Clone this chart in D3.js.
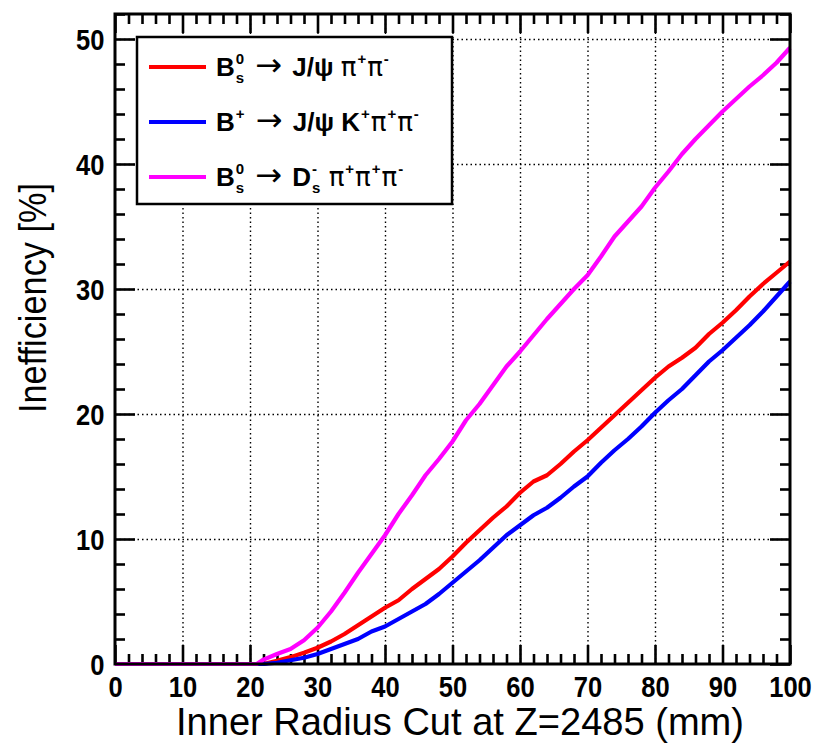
<!DOCTYPE html>
<html>
<head>
<meta charset="utf-8">
<script src="https://cdn.jsdelivr.net/npm/d3@7"></script>
<style>
  html, body { margin: 0; padding: 0; background: #fff; }
  svg { display: block; }
</style>
</head>
<body>
<svg id="chart" width="817" height="744"></svg>
<script>
// ---------------- DATA ----------------
const radius = [0, 2, 4, 6, 8, 10, 12, 14, 16, 18, 20, 21, 22, 24, 26, 28, 30, 32, 34, 36, 38, 40,
  42, 44, 46, 48, 50, 52, 54, 56, 58, 60, 62, 64, 66, 68, 70, 72, 74, 76, 78, 80,
  82, 84, 86, 88, 90, 92, 94, 96, 98, 100];

const bsJpsiPiPi = [0, 0, 0, 0, 0, 0, 0, 0, 0, 0, 0, 0, 0, 0.25, 0.55, 0.9, 1.3, 1.8, 2.4, 3.1, 3.8, 4.5,
  5.1, 6.0, 6.8, 7.6, 8.6, 9.7, 10.7, 11.7, 12.6, 13.7, 14.6, 15.1, 16.0, 17.0, 17.9, 18.9, 19.9, 20.9, 21.9, 22.9,
  23.8, 24.5, 25.3, 26.4, 27.3, 28.3, 29.4, 30.4, 31.3, 32.2];

const bpJpsiKPiPi = [0, 0, 0, 0, 0, 0, 0, 0, 0, 0, 0, 0, 0, 0.1, 0.3, 0.5, 0.8, 1.2, 1.6, 2.0, 2.6, 3.0,
  3.6, 4.2, 4.8, 5.6, 6.5, 7.4, 8.3, 9.3, 10.3, 11.1, 11.9, 12.5, 13.3, 14.2, 15.0, 16.1, 17.1, 18.0, 19.0, 20.1,
  21.1, 22.0, 23.1, 24.2, 25.1, 26.1, 27.1, 28.2, 29.4, 30.6];

const bsDsPiPiPi = [0, 0, 0, 0, 0, 0, 0, 0, 0, 0, 0, 0, 0.35, 0.8, 1.2, 1.9, 2.9, 4.2, 5.7, 7.3, 8.8, 10.3,
  12.0, 13.5, 15.1, 16.4, 17.8, 19.5, 20.8, 22.3, 23.8, 25.0, 26.3, 27.6, 28.8, 30.0, 31.1, 32.6, 34.2, 35.4, 36.6, 38.1,
  39.4, 40.8, 42.0, 43.1, 44.2, 45.2, 46.2, 47.1, 48.1, 49.3];

const xTickValues = [0, 10, 20, 30, 40, 50, 60, 70, 80, 90, 100];
const yTickValues = [0, 10, 20, 30, 40, 50];
const xTitle = "Inner Radius Cut at Z=2485 (mm)";
const yTitle = "Inefficiency [%]";

const seriesNames = ["bs_jpsipipi", "bp_jpsikpipi", "bs_dspipipi"];
const seriesColors = ["#ff0000", "#0000ff", "#ff00ff"];
const seriesValues = [bsJpsiPiPi, bpJpsiKPiPi, bsDsPiPiPi];

// legend rich-text parts: {t} normal text, {sub, sup} stacked indices
const legendParts = [
  [{t: "B"}, {sub: "s", sup: "0"}, {t: " \u2192 ", arrow: true}, {t: "J/\u03C8 "}, {t: "\u03C0", greek: true}, {sup: "+"}, {t: "\u03C0", greek: true}, {sup: "-"}],
  [{t: "B"}, {sup: "+"}, {t: " \u2192 ", arrow: true}, {t: "J/\u03C8 K"}, {sup: "+"}, {t: "\u03C0", greek: true}, {sup: "+"}, {t: "\u03C0", greek: true}, {sup: "-"}],
  [{t: "B"}, {sub: "s", sup: "0"}, {t: " \u2192 ", arrow: true}, {t: "D"}, {sub: "s", sup: "-"}, {t: " "}, {t: "\u03C0", greek: true}, {sup: "+"}, {t: "\u03C0", greek: true}, {sup: "+"}, {t: "\u03C0", greek: true}, {sup: "-"}]
];

// ---------------- LAYOUT ----------------
const svg = d3.select("#chart");
const L = 115, R = 790, T = 14, B = 664;
const x = d3.scaleLinear().domain([0, 100]).range([L, R]);
const y = d3.scaleLinear().domain([0, 52]).range([B, T]);
const FONT = "'Liberation Sans', Arial, Helvetica, sans-serif";

// grid
const grid = svg.append("g").attr("class", "grid");
grid.append("g").attr("transform", `translate(0,${B})`)
  .call(d3.axisBottom(x).tickValues(xTickValues.filter(v => v > 0 && v < 100)).tickSize(-(B - T)).tickFormat(""))
  .call(g => g.select(".domain").remove());
grid.append("g").attr("transform", `translate(${L},0)`)
  .call(d3.axisLeft(y).tickValues(yTickValues.filter(v => v > 0)).tickSize(-(R - L)).tickFormat(""))
  .call(g => g.select(".domain").remove());
grid.selectAll("line").attr("stroke", "#000").attr("stroke-width", 1.4).attr("stroke-dasharray", "1.5,3");

// minor ticks
const xMinor = d3.range(0, 101, 2).filter(v => v % 10 !== 0);
const yMinor = d3.range(0, 53, 2).filter(v => v % 10 !== 0);
function tickStyle(g) {
  g.select(".domain").remove();
  g.selectAll("line").attr("stroke", "#000").attr("stroke-width", 2.6);
}
svg.append("g").attr("transform", `translate(0,${B})`)
  .call(d3.axisBottom(x).tickValues(xMinor).tickSize(-10).tickFormat("")).call(tickStyle);
svg.append("g").attr("transform", `translate(0,${B})`)
  .call(d3.axisBottom(x).tickValues(xTickValues).tickSize(-19).tickFormat("")).call(tickStyle);
svg.append("g").attr("transform", `translate(0,${T})`)
  .call(d3.axisTop(x).tickValues(xMinor).tickSize(-10).tickFormat("")).call(tickStyle);
svg.append("g").attr("transform", `translate(0,${T})`)
  .call(d3.axisTop(x).tickValues(xTickValues).tickSize(-19).tickFormat("")).call(tickStyle);
svg.append("g").attr("transform", `translate(${L},0)`)
  .call(d3.axisLeft(y).tickValues(yMinor).tickSize(-10).tickFormat("")).call(tickStyle);
svg.append("g").attr("transform", `translate(${L},0)`)
  .call(d3.axisLeft(y).tickValues(yTickValues).tickSize(-20).tickFormat("")).call(tickStyle);
svg.append("g").attr("transform", `translate(${R},0)`)
  .call(d3.axisRight(y).tickValues(yMinor).tickSize(-10).tickFormat("")).call(tickStyle);
svg.append("g").attr("transform", `translate(${R},0)`)
  .call(d3.axisRight(y).tickValues(yTickValues).tickSize(-20).tickFormat("")).call(tickStyle);

// tick labels via axes
const xLab = svg.append("g").attr("transform", `translate(0,${B})`)
  .call(d3.axisBottom(x).tickValues(xTickValues).tickSize(0).tickPadding(12).tickFormat(d3.format("d")));
xLab.select(".domain").remove();
xLab.selectAll("text").attr("font-family", FONT).attr("font-weight", "bold").attr("font-size", 29)
  .attr("fill", "#000").attr("dy", "0.71em").attr("transform", "scale(0.88,1)");
const yLab = svg.append("g").attr("transform", `translate(${L},0)`)
  .call(d3.axisLeft(y).tickValues(yTickValues).tickSize(0).tickPadding(12).tickFormat(d3.format("d")));
yLab.select(".domain").remove();
yLab.selectAll("text").attr("font-family", FONT).attr("font-weight", "bold").attr("font-size", 29)
  .attr("fill", "#000").attr("dy", "0.36em").attr("transform", "scale(0.88,1)");

// curves
const line = d3.line().x((d, i) => x(radius[i])).y(d => y(d));
svg.append("g").selectAll("path").data(seriesValues).join("path")
  .attr("d", d => line(d))
  .attr("fill", "none")
  .attr("stroke", (d, i) => seriesColors[i])
  .attr("stroke-width", 4.2)
  .attr("stroke-linejoin", "round")
  .attr("stroke-linecap", "butt");

// frame
svg.append("rect").attr("x", L).attr("y", T).attr("width", R - L).attr("height", B - T)
  .attr("fill", "none").attr("stroke", "#000").attr("stroke-width", 3);

// axis titles
svg.append("text").attr("x", 460).attr("y", 735)
  .attr("text-anchor", "middle").attr("font-family", FONT).attr("font-size", 39)
  .attr("textLength", 568).attr("lengthAdjust", "spacingAndGlyphs")
  .attr("fill", "#000").text(xTitle);
svg.append("text").attr("transform", `translate(46,298) rotate(-90)`)
  .attr("text-anchor", "middle").attr("font-family", FONT).attr("font-size", 39)
  .attr("textLength", 230).attr("lengthAdjust", "spacingAndGlyphs")
  .attr("fill", "#000").text(yTitle);

// legend
const leg = svg.append("g");
leg.append("rect").attr("x", 137).attr("y", 37).attr("width", 315).attr("height", 167)
  .attr("fill", "#fff").attr("stroke", "#000").attr("stroke-width", 2.5);
const rowY = [67, 122, 177];
const legFS = 26, idxFS = 15;
legendParts.forEach((parts, i) => {
  const cy = rowY[i];
  leg.append("line").attr("x1", 149).attr("x2", 206).attr("y1", cy).attr("y2", cy)
    .attr("stroke", seriesColors[i]).attr("stroke-width", 4);
  let cx = 216;
  const base = cy + 9;
  parts.forEach(p => {
    if (p.t !== undefined) {
      const t = leg.append("text").attr("x", cx).attr("y", base)
        .attr("font-family", p.arrow ? "'DejaVu Sans', sans-serif" : (p.greek ? "'DejaVu Sans', sans-serif" : FONT))
        .attr("font-weight", (p.arrow || p.greek) ? "normal" : "bold")
        .attr("font-size", p.arrow ? 32 : legFS).attr("fill", "#000")
        .attr("xml:space", "preserve").style("white-space", "pre").text(p.t);
      cx += t.node().getComputedTextLength();
    } else {
      let w = 0;
      if (p.sup) {
        const t = leg.append("text").attr("x", cx + 1).attr("y", base - 12)
          .attr("font-family", FONT).attr("font-weight", "bold").attr("font-size", idxFS)
          .attr("fill", "#000").text(p.sup);
        w = Math.max(w, t.node().getComputedTextLength());
      }
      if (p.sub) {
        const t = leg.append("text").attr("x", cx + 1).attr("y", base + 7)
          .attr("font-family", FONT).attr("font-weight", "bold").attr("font-size", idxFS)
          .attr("fill", "#000").text(p.sub);
        w = Math.max(w, t.node().getComputedTextLength());
      }
      cx += w + 2;
    }
  });
});
</script>
</body>
</html>
